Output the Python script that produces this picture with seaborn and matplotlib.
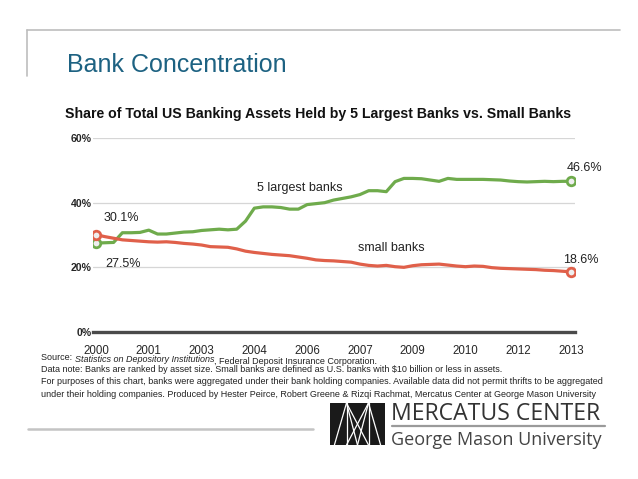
import pandas as pd
import matplotlib
matplotlib.use("Agg")
import matplotlib.pyplot as plt
import seaborn as sns
from matplotlib import font_manager

# quarterly shares, 2000 Q1 .. 2013 Q3
largest_5 = [27.5, 27.6, 27.7, 30.7, 30.7, 30.8, 31.5, 30.3, 30.3, 30.6,
             30.9, 31.0, 31.4, 31.6, 31.8, 31.6, 31.8, 34.3, 38.3, 38.7,
             38.7, 38.5, 38.0, 38.0, 39.4, 39.7, 40.0, 40.8, 41.3, 41.8,
             42.5, 43.7, 43.7, 43.4, 46.5, 47.5, 47.5, 47.4, 47.0, 46.6,
             47.5, 47.2, 47.2, 47.2, 47.2, 47.1, 47.0, 46.7, 46.5, 46.4,
             46.5, 46.6, 46.5, 46.6, 46.6]
small_banks = [30.1, 29.5, 29.0, 28.5, 28.3, 28.1, 27.9, 27.8, 27.9, 27.7,
               27.4, 27.2, 26.9, 26.4, 26.3, 26.2, 25.7, 25.0, 24.6, 24.3,
               24.0, 23.8, 23.6, 23.2, 22.8, 22.3, 22.1, 22.0, 21.8, 21.6,
               21.0, 20.6, 20.4, 20.6, 20.2, 20.0, 20.5, 20.8, 20.9, 21.0,
               20.7, 20.4, 20.2, 20.4, 20.3, 19.9, 19.7, 19.6, 19.5, 19.4,
               19.3, 19.1, 19.0, 18.8, 18.6]
series_names = ["5 largest banks", "small banks"]
x_tick_labels = ["2000", "2001", "2003", "2004", "2006", "2007", "2009",
                 "2010", "2012", "2013"]
y_ticks = [0, 20, 40, 60]

green = "#6fab4c"
red = "#e0604a"

names = {f.name for f in font_manager.fontManager.ttflist}
has_narrow = "Liberation Sans Narrow" in names
narrow = "Liberation Sans Narrow" if has_narrow else "Liberation Sans"

sns.set_style("white")
plt.rcParams["font.family"] = ["Liberation Sans", "DejaVu Sans"]

df = pd.concat([
    pd.DataFrame({"q": range(len(largest_5)), "share": largest_5, "series": series_names[0]}),
    pd.DataFrame({"q": range(len(small_banks)), "share": small_banks, "series": series_names[1]}),
])

W, H = 638, 479
fig = plt.figure(figsize=(W / 100, H / 100), dpi=100)


def fx(x):
    return x / W


def fy(y):
    return 1 - y / H


ax = fig.add_axes([fx(93), fy(332), fx(575) - fx(93), fy(138) - fy(332)])
sns.lineplot(data=df, x="q", y="share", hue="series",
             palette={series_names[0]: green, series_names[1]: red},
             linewidth=2.3, ax=ax, legend=False)

# open end markers
for vals, col in [(largest_5, green), (small_banks, red)]:
    ends = [0, len(vals) - 1]
    ax.scatter(ends, [vals[i] for i in ends], s=38, facecolor="#eeeeee",
               edgecolor=col, linewidth=2, zorder=5)

ax.set_xlim(-0.34, 54.45)
ax.set_ylim(0, 60)
ax.set_xticks(range(0, 6 * len(x_tick_labels), 6))
ax.set_xticklabels(x_tick_labels, fontsize=9.5 if has_narrow else 8.3, family=narrow)
ax.set_yticks(y_ticks)
ax.set_yticklabels([f"{v}%" for v in y_ticks], fontsize=7.6, fontweight="bold")
ax.tick_params(axis="x", length=0, pad=9)
ax.tick_params(axis="y", length=0, pad=1)
ax.set_xlabel("")
ax.set_ylabel("")
ax.grid(axis="y", color="#d6d6d6", linewidth=0.9)
for s in ["left", "right", "top"]:
    ax.spines[s].set_visible(False)
ax.spines["bottom"].set_color("#4a4a4a")
ax.spines["bottom"].set_linewidth(2.4)
ax.set_axisbelow(True)

# labels
ax.text(0.9, 35.2, f"{small_banks[0]:.1f}%", fontsize=9, va="center", color="#222")
ax.text(1.1, 21.0, f"{largest_5[0]:.1f}%", fontsize=9, va="center", color="#222")
ax.text(18.3, 44.5, series_names[0], fontsize=9, va="center", color="#222")
ax.text(29.8, 26.0, series_names[1], fontsize=9, va="center", color="#222")
ax.text(53.5, 50.7, f"{largest_5[-1]:.1f}%", fontsize=9, va="center", color="#222", clip_on=False)
ax.text(53.1, 22.3, f"{small_banks[-1]:.1f}%", fontsize=9, va="center", color="#222", clip_on=False)

# slide frame
fig.add_artist(plt.Line2D([fx(27), fx(620)], [fy(30), fy(30)], color="#bdbdbd", lw=1.2))
fig.add_artist(plt.Line2D([fx(27), fx(27)], [fy(30), fy(76)], color="#bdbdbd", lw=1.2))
fig.add_artist(plt.Line2D([fx(28), fx(313)], [fy(429), fy(429)], color="#c4c4c4", lw=1.8))

fig.text(fx(67), fy(72), "Bank Concentration", fontsize=18, color="#1d6282", va="baseline")
fig.text(fx(65), fy(118), "Share of Total US Banking Assets Held by 5 Largest Banks vs. Small Banks",
         fontsize=10.2, fontweight="bold", color="#111", va="baseline")

# source notes
note_kw = dict(fontsize=7.8 if has_narrow else 6.45, family=narrow, color="#222", va="baseline")
t1 = fig.text(fx(41), fy(360), "Source: ", **note_kw)
t2 = ax.annotate("Statistics on Depository Institutions", xy=(1, 0), xycoords=t1,
                 style="italic", annotation_clip=False, **note_kw)
ax.annotate(", Federal Deposit Insurance Corporation.", xy=(1, 0), xycoords=t2,
            annotation_clip=False, **note_kw)
notes = [
    "Data note: Banks are ranked by asset size. Small banks are defined as U.S. banks with $10 billion or less in assets.",
    "For purposes of this chart, banks were aggregated under their bank holding companies. Available data did not permit thrifts to be aggregated",
    "under their holding companies. Produced by Hester Peirce, Robert Greene & Rizqi Rachmat, Mercatus Center at George Mason University",
]
for i, line in enumerate(notes):
    fig.text(fx(41), fy(372 + 12.3 * i), line.replace("$", r"\$"), **note_kw)

# logo
logo = fig.add_axes([fx(330), fy(445), fx(385) - fx(330), fy(403) - fy(445)])
logo.set_xlim(0, 1)
logo.set_ylim(0, 1)
logo.add_patch(plt.Rectangle((0, 0), 1, 1, color="#1a1a1a"))
for xs, ys in [([0.08, 0.3], [0, 1]), ([0.3, 0.5], [1, 0]), ([0.5, 0.7], [0, 1]),
               ([0.7, 0.92], [1, 0]), ([0.3, 0.3], [0, 1]), ([0.7, 0.7], [0, 1]),
               ([0.3, 0.7], [0.0, 1.0]), ([0.7, 0.3], [0.0, 1.0])]:
    logo.plot(xs, ys, color="white", lw=0.9)
logo.axis("off")

fig.text(fx(391), fy(420), "MERCATUS CENTER", fontsize=16.6, family="Open Sans",
         color="#333", va="baseline")
fig.add_artist(plt.Line2D([fx(392), fx(605)], [fy(425.5), fy(425.5)], color="#9a9a9a", lw=1.6))
fig.text(fx(391), fy(445), "George Mason University", fontsize=13.0, family="Open Sans",
         color="#444", va="baseline")

fig.savefig("out.png", dpi=100)
